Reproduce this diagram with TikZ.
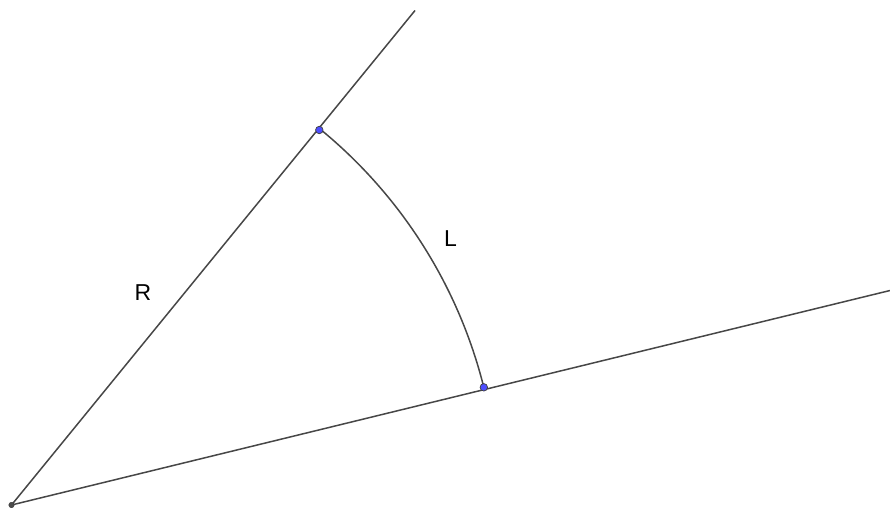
\documentclass[tikz,border=0pt]{standalone}
\usepackage{fontspec}
\setmainfont{Liberation Sans}
\begin{document}
\begin{tikzpicture}[x=1pt,y=-1pt,
  ln/.style={draw=black!72, line width=1.5pt},
  bpt/.style={circle, fill={rgb,255:red,77;green,77;blue,255}, draw=black!75, line width=0.7pt, inner sep=0pt, minimum size=7.5pt},
  opt/.style={circle, fill=black!70, draw=black!80, inner sep=0pt, minimum size=5.5pt},
  lbl/.style={font=\fontsize{23}{25}\selectfont, text=black}]
\useasboundingbox (0,0) rectangle (890,508);
\coordinate (O) at (11.5,505);
\coordinate (E1) at (415,10.5);
\coordinate (E2) at (890,290.5);
\coordinate (A) at (319.3,130);
\coordinate (B) at (483.8,387.3);
\draw[ln] (O) -- (E1);
\draw[ln] (O) -- (E2);
\draw[ln] (B) arc[start angle=-14.04, end angle=-50.6, radius=486];
\node[opt] (o) at (O) {};
\node[bpt] (a) at (A) {};
\node[bpt] (b) at (B) {};
\node[lbl] (r) at (143,293) {R};
\node[lbl] (l) at (450.5,239) {L};
\end{tikzpicture}
\end{document}
